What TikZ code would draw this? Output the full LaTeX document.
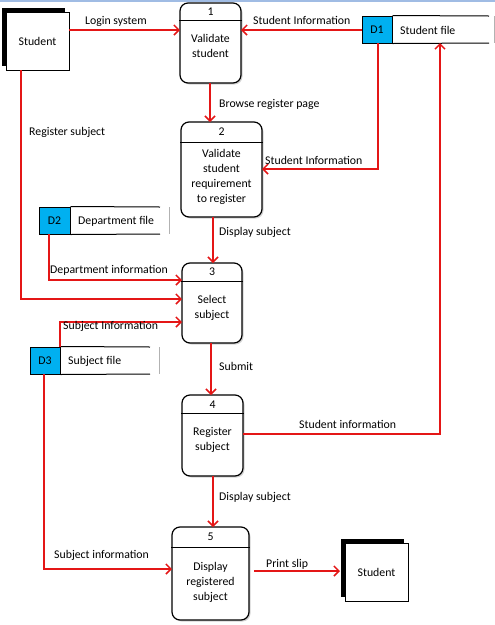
\documentclass[tikz,border=0pt]{standalone}
\usepackage{fontspec}
\setmainfont{Carlito}
\usetikzlibrary{calc,shadows,arrows.meta}
\definecolor{flowred}{RGB}{228,22,22}
\definecolor{storeblue}{RGB}{0,176,240}
\definecolor{topband}{RGB}{160,188,228}
\tikzset{
  flow/.style={draw=flowred, line width=1.5pt, -{Straight Barb[length=5pt,width=10pt]}},
  procbox/.style={draw, line width=1.2pt, rounded corners=8pt, fill=white,
    drop shadow={shadow xshift=1.5pt, shadow yshift=-1.5pt, opacity=0.35}},
  entity/.style={draw, line width=1pt, fill=white,
    general shadow={fill=black, shadow xshift=-4.5pt, shadow yshift=4pt}},
  storeid/.style={draw, line width=1pt, fill=storeblue, inner sep=0pt, font=\fontsize{11.8}{13}\selectfont},
  lbl/.style={inner sep=0pt, anchor=west, font=\fontsize{11.8}{13}\selectfont},
  ptext/.style={inner sep=0pt, align=center, font=\fontsize{11.8}{15}\selectfont},
}
\begin{document}
\begin{tikzpicture}[x=1pt,y=-1pt]
\useasboundingbox (0,0) rectangle (495,625);
\fill[topband] (0,0) rectangle (495,2);

% external entities
\node[entity, minimum width=63pt, minimum height=58pt, inner sep=0pt] (s1) at (37.5,41) {};
\node[ptext] (s1t) at (s1.center) {Student};
\node[entity, minimum width=63pt, minimum height=58pt, inner sep=0pt] (s2) at (376.5,572) {};
\node[ptext] (s2t) at (s2.center) {Student};

% processes
\node[procbox, minimum width=61pt, minimum height=80pt, inner sep=0pt] (p1) at (210.5,43) {};
\node[procbox, minimum width=81pt, minimum height=95pt, inner sep=0pt] (p2) at (221.5,169.5) {};
\node[procbox, minimum width=60pt, minimum height=80pt, inner sep=0pt] (p3) at (212,303) {};
\node[procbox, minimum width=61pt, minimum height=81pt, inner sep=0pt] (p4) at (212.5,435.5) {};
\node[procbox, minimum width=77pt, minimum height=93pt, inner sep=0pt] (p5) at (210.5,573.5) {};
\foreach \p/\d in {p1/18,p2/21,p3/19,p4/19,p5/21}{
  \draw[line width=1pt] ($(\p.north west)+(0,\d)$) -- ($(\p.north east)+(0,\d)$);
}
\node[ptext] (p1n) at (210.5,12) {1};
\node[ptext] (p1t) at (210.5,45.5) {Validate\\student};
\node[ptext] (p2n) at (221.5,131.5) {2};
\node[ptext] (p2t) at (221.5,177) {Validate\\student\\requirement\\to register};
\node[ptext] (p3n) at (212,272) {3};
\node[ptext] (p3t) at (212,307.5) {Select\\subject};
\node[ptext] (p4n) at (212.5,404.5) {4};
\node[ptext] (p4t) at (212.5,439.5) {Register\\subject};
\node[ptext] (p5n) at (210.5,537) {5};
\node[ptext] (p5t) at (210.5,582) {Display\\registered\\subject};

% data stores
\node[storeid, minimum width=30pt, minimum height=27pt] (d1) at (377,29.5) {D1};
\draw[line width=1pt] (d1.north east) -- (489,16);
\draw[line width=1pt] (d1.south east) -- (489,43);
\draw[gray!60, line width=0.6pt] (494,16) -- (494,43);
\node[lbl] (d1t) at (400,30) {Student file};

\node[storeid, minimum width=31pt, minimum height=27pt] (d2) at (54.5,220.5) {D2};
\draw[line width=1pt] (d2.north east) -- (160,207);
\draw[line width=1pt] (d2.south east) -- (160,234);
\draw[gray!60, line width=0.6pt] (169,207) -- (169,234);
\node[lbl] (d2t) at (78,221) {Department file};

\node[storeid, minimum width=30pt, minimum height=27pt] (d3) at (45,360.5) {D3};
\draw[line width=1pt] (d3.north east) -- (150,347);
\draw[line width=1pt] (d3.south east) -- (150,374);
\draw[gray!60, line width=0.6pt] (159,347) -- (159,374);
\node[lbl] (d3t) at (68,361) {Subject file};

% ports / bends (integer pixel positions)
\coordinate (s1log) at (69,30);
\coordinate (p1log) at (180,30);
\coordinate (d1left) at (362,30);
\coordinate (p1info) at (241,30);
\coordinate (p1out) at (210,83);
\coordinate (p2in) at (210,122);
\coordinate (d1down) at (378,43);
\coordinate (p2info) at (262,169);
\coordinate (p2out) at (213,217);
\coordinate (p3in) at (213,263);
\coordinate (s1reg) at (21,70);
\coordinate (p3reg) at (182,299);
\coordinate (d2out) at (49,234);
\coordinate (p3dep) at (182,280);
\coordinate (d3up) at (60,347);
\coordinate (p3subj) at (182,322);
\coordinate (p3out) at (211,343);
\coordinate (p4in) at (211,395);
\coordinate (p4info) at (243,434);
\coordinate (d1in) at (440,43);
\coordinate (p4out) at (213,476);
\coordinate (p5in) at (213,527);
\coordinate (d3down) at (44,374);
\coordinate (p5subj) at (172,569);
\coordinate (p5out) at (254,571);
\coordinate (s2in) at (340,571);

% connectors
\draw[flow] (s1log) -- (p1log);
\draw[flow] (d1left) -- (p1info);
\draw[flow] (p1out) -- (p2in);
\draw[flow] (d1down) |- (p2info);
\draw[flow] (p2out) -- (p3in);
\draw[flow] (d2out) |- (p3dep);
\draw[flow] (s1reg) |- (p3reg);
\draw[flow] (d3up) |- (p3subj);
\draw[flow] (p3out) -- (p4in);
\draw[flow] (p4info) -| (d1in);
\draw[flow] (p4out) -- (p5in);
\draw[flow] (d3down) |- (p5subj);
\draw[flow] (p5out) -- (s2in);

% labels
\node[lbl] (l1) at (85,21) {Login system};
\node[lbl] (l2) at (253,20) {Student Information};
\node[lbl] (l3) at (219,104) {Browse register page};
\node[lbl] (l4) at (29,132) {Register subject};
\node[lbl] (l5) at (265,160) {Student Information};
\node[lbl] (l6) at (219,232) {Display subject};
\node[lbl] (l7) at (50,270) {Department information};
\node[lbl] (l8) at (63,326) {Subject Information};
\node[lbl] (l9) at (219,366) {Submit};
\node[lbl] (l10) at (299,424) {Student information};
\node[lbl] (l11) at (219,497) {Display subject};
\node[lbl] (l12) at (54,555) {Subject information};
\node[lbl] (l13) at (266,564) {Print slip};
\end{tikzpicture}
\end{document}
